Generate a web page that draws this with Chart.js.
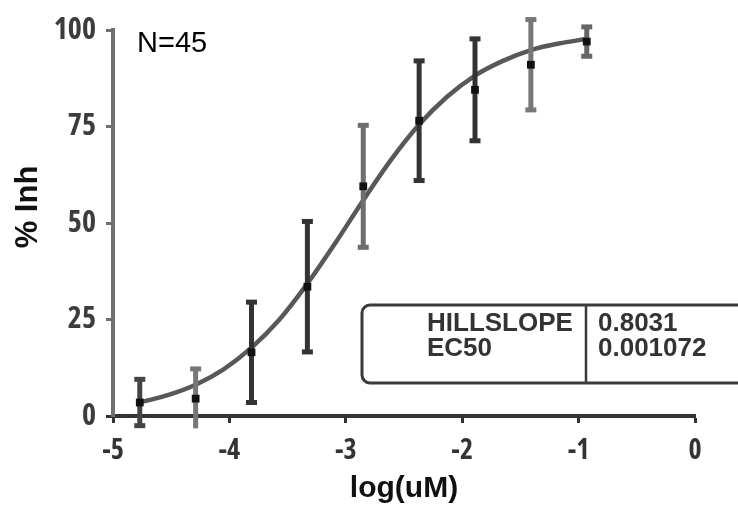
<!DOCTYPE html>
<html lang="en">
<head>
    <meta charset="UTF-8" />
    <title>% Inh vs log(uM)</title>
    <script src="https://cdn.jsdelivr.net/npm/chart.js"></script>
    <style>
        body {
            margin: 0;
            padding: 0;
            background: #fff;
        }
        #wrap {
            width: 738px;
            height: 508px;
        }
    </style>
</head>
<body>
    <div id="wrap">
        <canvas id="doseChart" width="738" height="508"></canvas>
    </div>

    <script>
        // measured points (mean +/- error)
        const doseLog = [-4.77, -4.29, -3.81, -3.33, -2.85, -2.37, -1.89, -1.41, -0.93];
        const meanInh = [3.5, 4.5, 16.5, 33.5, 59.5, 76.5, 84.5, 91, 97];
        const errInh = [6, 7.7, 13, 16.9, 15.8, 15.5, 13.2, 11.7, 3.8];
        const barColors = ['#444', '#777', '#333', '#333', '#6e6e6e', '#333', '#333', '#777', '#666'];

        // fitted curve
        const curveLog = [-4.77, -4.53, -4.29, -4.05, -3.81, -3.57, -3.33, -3.09, -2.85, -2.61, -2.37, -2.13, -1.89, -1.65, -1.41, -1.17, -0.93];
        const curveInh = [3.5, 5.4, 8.1, 12.1, 17.7, 25, 34.3, 44.8, 55.9, 66.4, 75.5, 82.7, 88.2, 92, 94.8, 96.5, 97.7];

        const xTicks = [-5, -4, -3, -2, -1, 0];
        const yTicks = [0, 25, 50, 75, 100];

        const fitLabels = ['HILLSLOPE', 'EC50'];
        const fitValues = ['0.8031', '0.001072'];

        const narrow = "'Open Sans', 'Liberation Sans', sans-serif";
        const plain = "'Liberation Sans', Arial, sans-serif";

        const errorSets = doseLog.map((x, i) => ({
            type: 'line',
            data: [{ x: x, y: meanInh[i] - errInh[i] }, { x: x, y: meanInh[i] + errInh[i] }],
            borderColor: barColors[i],
            borderWidth: 5,
            pointStyle: 'line',
            pointRadius: 5.5,
            pointBorderWidth: 5,
            pointBorderColor: barColors[i],
            clip: false,
            order: 2
        }));

        // N label, y title and the fit table
        const fitBox = {
            id: 'fitBox',
            afterDraw(chart) {
                const ctx = chart.ctx;
                ctx.save();

                ctx.fillStyle = '#000';
                ctx.font = '29px ' + plain;
                ctx.textBaseline = 'alphabetic';
                ctx.textAlign = 'left';
                ctx.fillText('N=45', 137, 52);

                ctx.save();
                ctx.translate(37, 207);
                ctx.rotate(-Math.PI / 2);
                ctx.textAlign = 'center';
                ctx.fillStyle = '#111';
                ctx.font = 'bold 31px ' + plain;
                ctx.fillText('% Inh', 0, 0);
                ctx.restore();

                ctx.strokeStyle = '#3a3a3a';
                ctx.lineWidth = 3;
                ctx.beginPath();
                ctx.roundRect(362, 305, 400, 78, 8);
                ctx.stroke();
                ctx.lineWidth = 2.5;
                ctx.beginPath();
                ctx.moveTo(586, 305);
                ctx.lineTo(586, 383);
                ctx.stroke();

                ctx.fillStyle = '#333';
                ctx.font = 'bold 26px ' + plain;
                fitLabels.forEach((t, i) => ctx.fillText(t, 427, 331 + i * 25));
                fitValues.forEach((t, i) => ctx.fillText(t, 598, 331 + i * 25));
                ctx.restore();
            }
        };

        new Chart(document.getElementById('doseChart'), {
            type: 'scatter',
            data: {
                datasets: [
                    {
                        type: 'line',
                        data: curveLog.map((x, i) => ({ x: x, y: curveInh[i] })),
                        borderColor: '#585858',
                        borderWidth: 4.5,
                        pointRadius: 0,
                        cubicInterpolationMode: 'monotone',
                        clip: false,
                        order: 3
                    },
                    ...errorSets,
                    {
                        data: doseLog.map((x, i) => ({ x: x, y: meanInh[i] })),
                        pointStyle: 'rect',
                        pointRadius: 5.5,
                        backgroundColor: '#111',
                        borderColor: '#111',
                        borderWidth: 0,
                        clip: false,
                        order: 1
                    }
                ]
            },
            options: {
                responsive: false,
                animation: false,
                layout: { padding: { top: 30, right: 43, left: 0, bottom: 0 } },
                plugins: {
                    legend: { display: false },
                    tooltip: { enabled: false }
                },
                scales: {
                    x: {
                        type: 'linear',
                        min: -5,
                        max: 0,
                        afterFit(scale) { scale.height = 92; },
                        afterBuildTicks(scale) { scale.ticks = xTicks.map(v => ({ value: v })); },
                        border: { color: '#333', width: 4 },
                        grid: { drawOnChartArea: false, drawTicks: true, tickLength: 7, tickColor: '#333', tickWidth: 3 },
                        ticks: {
                            color: '#333',
                            padding: 11,
                            maxRotation: 0,
                            font: { family: narrow, size: 28, weight: 'bold condensed' }
                        },
                        title: {
                            display: true,
                            text: 'log(uM)',
                            color: '#111',
                            padding: { top: 0, bottom: 1 },
                            font: { family: plain, size: 30, weight: 'bold' }
                        }
                    },
                    y: {
                        min: 0,
                        max: 100,
                        afterFit(scale) { scale.width = 113; },
                        afterBuildTicks(scale) { scale.ticks = yTicks.map(v => ({ value: v })); },
                        border: { color: '#707070', width: 4 },
                        grid: {
                            drawOnChartArea: false,
                            drawTicks: true,
                            tickLength: 7,
                            tickWidth: 3,
                            tickColor: ctx => ctx.tick && ctx.tick.value === 0 ? '#333' : '#707070'
                        },
                        ticks: {
                            color: '#3c3c3c',
                            padding: 10,
                            font: { family: narrow, size: 30, weight: 'bold condensed' }
                        },
                        title: { display: false }
                    }
                }
            },
            plugins: [fitBox]
        });
    </script>
</body>
</html>
